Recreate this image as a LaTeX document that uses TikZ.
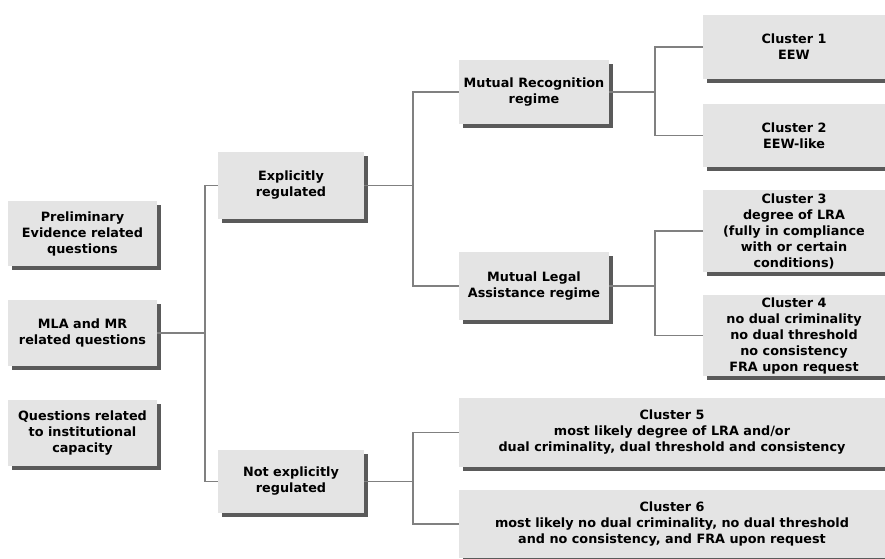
\documentclass[tikz,border=0pt]{standalone}
\usepackage{fontspec}
\setmainfont{DejaVu Sans}
\usetikzlibrary{
  shadows
}
\definecolor{boxgray}{RGB}{228,228,228}
\definecolor{linegray}{RGB}{128,128,128}
\definecolor{shadowgray}{RGB}{90,90,90}

\begin{document}
\begin{tikzpicture}[
  x=1pt,
  y=-1pt,
  box/.style={
    fill=boxgray,
    draw=none,
    align=center,
    inner sep=0pt,
    font=\fontsize{12.8}{16}\selectfont\bfseries,
    drop shadow={
      shadow xshift=4pt,
      shadow yshift=-4pt,
      fill=shadowgray,
      opacity=1
    }
  },
  link/.style={
    draw=linegray,
    line width=1.8pt
  }
]

\useasboundingbox (0,0) rectangle (885,558);

% Questions
\node[box,minimum width=149,minimum height=65] (prelim) at (82.5,233.5)
  {Preliminary\\Evidence related\\questions};
\node[box,minimum width=149,minimum height=66] (mla) at (82.5,333)
  {MLA and MR\\related questions};
\node[box,minimum width=149,minimum height=66] (inst) at (82.5,433)
  {Questions related\\to institutional\\capacity};

% Regulation
\node[box,minimum width=146,minimum height=67] (explicit) at (291,185.5)
  {Explicitly\\regulated};
\node[box,minimum width=146,minimum height=63] (notexp) at (291,481.5)
  {Not explicitly\\regulated};

% Regimes
\node[box,minimum width=150,minimum height=64] (mr) at (534,92)
  {Mutual Recognition\\regime};
\node[box,minimum width=150,minimum height=68] (mlar) at (534,286)
  {Mutual Legal\\Assistance regime};

% Clusters
\node[box,minimum width=182,minimum height=64] (c1) at (794,47)
  {Cluster 1\\EEW};
\node[box,minimum width=182,minimum height=63] (c2) at (794,135.5)
  {Cluster 2\\EEW-like};
\node[box,minimum width=182,minimum height=82] (c3) at (794,231)
  {Cluster 3\\degree of LRA\\(fully in compliance\\with or certain\\conditions)};
\node[box,minimum width=182,minimum height=81] (c4) at (794,335.5)
  {Cluster 4\\no dual criminality\\no dual threshold\\no consistency\\FRA upon request};
\node[box,minimum width=426,minimum height=69] (c5) at (672,432.5)
  {Cluster 5\\most likely degree of LRA and/or\\dual criminality, dual threshold and consistency};
\node[box,minimum width=426,minimum height=68] (c6) at (672,524)
  {Cluster 6\\most likely no dual criminality, no dual threshold\\and no consistency, and FRA upon request};

% Links 1
\draw[link] (explicit.west) -- ++(-13,0) coordinate (trunk) |- (notexp.west);
\draw[link] (mla.east) -- (mla.east -| trunk);

% Links 2
\draw[link] (explicit.east) -- ++(49,0);
\draw[link] (mr.west) -- ++(-46,0) |- (mlar.west);
\draw[link] (notexp.east) -- ++(49,0);
\draw[link] (c5.west) -- ++(-46,0) |- (c6.west);

% Links 3
\draw[link] (mr.east) -- ++(46,0);
\draw[link] (c1.west) -- ++(-48,0) |- (c2.west);
\draw[link] (mlar.east) -- ++(46,0);
\draw[link] (c3.west) -- ++(-48,0) |- (c4.west);

\end{tikzpicture}
\end{document}
